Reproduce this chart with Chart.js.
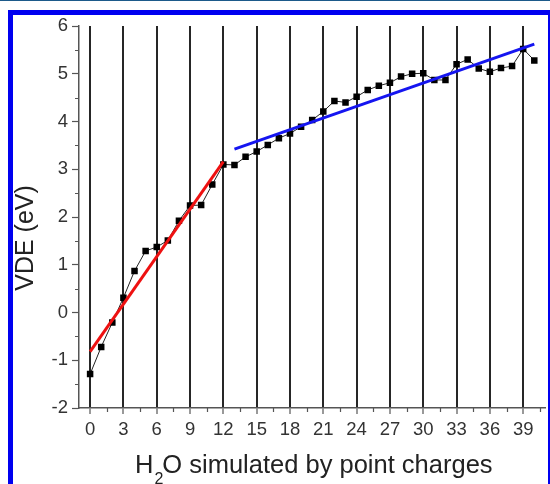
<!DOCTYPE html>
<html>
<head>
<meta charset="utf-8">
<script src="https://cdn.jsdelivr.net/npm/chart.js@4/dist/chart.umd.min.js"></script>
<style>
  html, body { margin: 0; padding: 0; background: #ffffff; }
  #wrap { position: relative; width: 550px; height: 484px; overflow: hidden; background: #fff; }
  #topline { position: absolute; left: 0; top: 0; width: 550px; height: 1px; background: #1d5a8a; }
  #frame { position: absolute; left: 8px; top: 10px; width: 535px; height: 480px;
           border-left: 5px solid #0000f0; border-top: 5px solid #0000f0; border-right: 2px solid #0000f0; }
  canvas { position: absolute; left: 0; top: 0; }
</style>
</head>
<body>
<div id="wrap">
  <div id="topline"></div>
  <div id="frame"></div>
  <canvas id="c" width="550" height="484"></canvas>
</div>
<script>
// ---- data ----
const waterCounts = [0,1,2,3,4,5,6,7,8,9,10,11,12,13,14,15,16,17,18,19,20,
                     21,22,23,24,25,26,27,28,29,30,31,32,33,34,35,36,37,38,39,40];
const vdeValues = [-1.29,-0.72,-0.21,0.31,0.87,1.29,1.37,1.51,1.92,2.24,2.25,2.68,3.10,
                   3.09,3.26,3.37,3.51,3.65,3.75,3.89,4.03,4.21,4.43,4.40,4.52,4.66,4.75,
                   4.81,4.94,5.00,5.01,4.87,4.87,5.20,5.30,5.11,5.04,5.12,5.16,5.52,5.28];
const redFitX = [0, 12];
const redFitY = [-0.82, 3.16];
const blueFitX = [13, 40];
const blueFitY = [3.42, 5.62];
const xTickValues = [0,3,6,9,12,15,18,21,24,27,30,33,36,39];
const yTickValues = [-2,-1,0,1,2,3,4,5,6];
const xMinorTicks = [1.5,4.5,7.5,10.5,13.5,16.5,19.5,22.5,25.5,28.5,31.5,34.5,37.5,40.5];
const yMinorTicks = [-1.5,-0.5,0.5,1.5,2.5,3.5,4.5,5.5];
const xTitleParts = ['H', '2', 'O simulated by point charges'];
const yTitle = 'VDE (eV)';

const FONT = '"Liberation Sans", Arial, Helvetica, sans-serif';

const pts = (xs, ys) => xs.map((x, i) => ({x: x, y: ys[i]}));

const extras = {
  id: 'extras',
  afterDraw(chart) {
    const ctx = chart.ctx;
    const xs = chart.scales.x, ys = chart.scales.y;
    ctx.save();
    // minor ticks
    ctx.strokeStyle = '#555';
    ctx.lineWidth = 1.2;
    ctx.beginPath();
    xMinorTicks.forEach(v => {
      const px = Math.round(xs.getPixelForValue(v)) + 0.5;
      if (px <= chart.chartArea.right + 1) {
        ctx.moveTo(px, xs.top);
        ctx.lineTo(px, xs.top + 4);
      }
    });
    yMinorTicks.forEach(v => {
      const py = Math.round(ys.getPixelForValue(v)) + 0.5;
      ctx.moveTo(ys.right, py);
      ctx.lineTo(ys.right - 4, py);
    });
    ctx.stroke();

    // x title with subscript
    ctx.fillStyle = '#222';
    ctx.textBaseline = 'alphabetic';
    ctx.textAlign = 'left';
    let x = 135;
    const base = 473;
    ctx.font = '25.5px ' + FONT;
    ctx.fillText(xTitleParts[0], x, base);
    x += ctx.measureText(xTitleParts[0]).width + 1;
    ctx.font = '16px ' + FONT;
    ctx.fillText(xTitleParts[1], x, base + 11);
    x += ctx.measureText(xTitleParts[1]).width - 1;
    ctx.font = '25.5px ' + FONT;
    ctx.fillText(xTitleParts[2], x, base);

    // y title
    ctx.translate(33, 238);
    ctx.rotate(-Math.PI / 2);
    ctx.textAlign = 'center';
    ctx.font = '25px ' + FONT;
    ctx.fillText(yTitle, 0, 0);
    ctx.restore();
  }
};

new Chart(document.getElementById('c'), {
  type: 'scatter',
  data: {
    datasets: [
      {
        label: 'VDE',
        data: pts(waterCounts, vdeValues),
        showLine: true,
        borderColor: '#222',
        borderWidth: 1,
        backgroundColor: '#000',
        pointStyle: 'rect',
        pointRadius: 4.6,
        pointBorderWidth: 0,
        order: 3
      },
      {
        label: 'fit 1',
        data: pts(redFitX, redFitY),
        showLine: true,
        borderColor: '#ee1111',
        borderWidth: 3,
        pointRadius: 0,
        order: 1
      },
      {
        label: 'fit 2',
        data: pts(blueFitX, blueFitY),
        showLine: true,
        borderColor: '#1515f0',
        borderWidth: 3,
        pointRadius: 0,
        order: 2
      }
    ]
  },
  options: {
    responsive: false,
    animation: false,
    devicePixelRatio: 1,
    layout: { padding: { left: 0, top: 26, right: 2, bottom: 0 } },
    plugins: { legend: { display: false }, tooltip: { enabled: false } },
    scales: {
      x: {
        type: 'linear',
        min: -1, max: 41,
        afterBuildTicks: s => { s.ticks = xTickValues.map(v => ({value: v})); },
        afterFit: s => { s.height = 76; },
        ticks: { color: '#333', font: { family: FONT, size: 18.5 }, padding: 5, autoSkip: false, maxRotation: 0 },
        grid: { display: true, drawOnChartArea: true, color: '#262626', lineWidth: 2,
                drawTicks: true, tickLength: 6, tickColor: '#555', tickWidth: 1.2 },
        border: { display: true, color: '#555', width: 1.5 }
      },
      y: {
        type: 'linear',
        min: -2, max: 6,
        afterBuildTicks: s => { s.ticks = yTickValues.map(v => ({value: v})); },
        afterFit: s => { s.width = 79; },
        ticks: { color: '#333', font: { family: FONT, size: 18.5 }, padding: 4 },
        grid: { display: true, drawOnChartArea: false, drawTicks: true, tickLength: 7,
                tickColor: '#555', tickWidth: 1.2 },
        border: { display: true, color: '#555', width: 1.5 }
      }
    }
  },
  plugins: [extras]
});
</script>
</body>
</html>
